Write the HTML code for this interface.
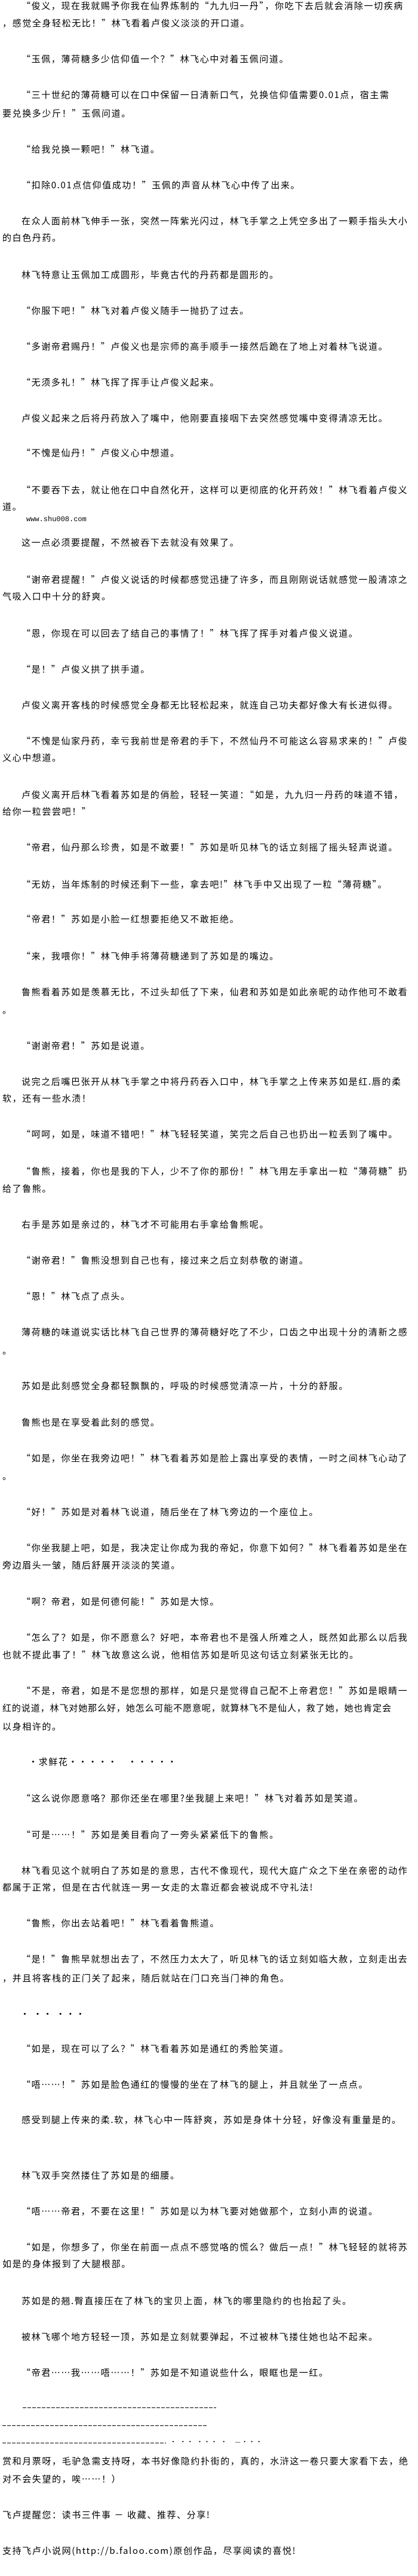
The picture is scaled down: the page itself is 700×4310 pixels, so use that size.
<!DOCTYPE html>
<html><head><meta charset="utf-8">
<style>
html,body{margin:0;padding:0;background:#fff;}
body{width:700px;height:4310px;position:relative;overflow:hidden;font-family:"Noto Sans CJK SC","WenQuanYi Zen Hei","Liberation Sans",sans-serif;font-size:15px;color:#000;}
p{position:absolute;margin:0;white-space:nowrap;line-height:20px;height:20px;letter-spacing:1.6px;}
.i{left:36px}.n{left:4px}
.d{position:absolute;height:1px;background:repeating-linear-gradient(90deg,#000 0 6px,transparent 6px 8px);}
</style></head><body>
<p class="i" style="top:0px">“俊义，现在我就赐予你我在仙界炼制的“九九归一丹”，你吃下去后就会消除一切疾病</p>
<p class="n" style="top:29px">，感觉全身轻松无比！”林飞看着卢俊义淡淡的开口道。</p>
<p class="i" style="top:89px">“玉佩，薄荷糖多少信仰值一个？”林飞心中对着玉佩问道。</p>
<p class="i" style="top:149px">“三十世纪的薄荷糖可以在口中保留一日清新口气，兑换信仰值需要0.01点，宿主需</p>
<p class="n" style="top:180px">要兑换多少斤！”玉佩问道。</p>
<p class="i" style="top:240px">“给我兑换一颗吧！”林飞道。</p>
<p class="i" style="top:300px">“扣除0.01点信仰值成功！”玉佩的声音从林飞心中传了出来。</p>
<p class="i" style="top:360px">在众人面前林飞伸手一张，突然一阵紫光闪过，林飞手掌之上凭空多出了一颗手指头大小</p>
<p class="n" style="top:388px">的白色丹药。</p>
<p class="i" style="top:450px">林飞特意让玉佩加工成圆形，毕竟古代的丹药都是圆形的。</p>
<p class="i" style="top:510px">“你服下吧！”林飞对着卢俊义随手一抛扔了过去。</p>
<p class="i" style="top:570px">“多谢帝君赐丹！”卢俊义也是宗师的高手顺手一接然后跪在了地上对着林飞说道。</p>
<p class="i" style="top:630px">“无须多礼！”林飞挥了挥手让卢俊义起来。</p>
<p class="i" style="top:690px">卢俊义起来之后将丹药放入了嘴中，他刚要直接咽下去突然感觉嘴中变得清凉无比。</p>
<p class="i" style="top:748px">“不愧是仙丹！”卢俊义心中想道。</p>
<p class="i" style="top:810px">“不要吞下去，就让他在口中自然化开，这样可以更彻底的化开药效！”林飞看着卢俊义</p>
<p class="n" style="top:838px">道。</p>
<p style="top:859px;left:44px;font-family:'Liberation Mono',monospace;font-size:12px;letter-spacing:0">www.shu008.com</p>
<p class="i" style="top:898px">这一点必须要提醒，不然被吞下去就没有效果了。</p>
<p class="i" style="top:960px">“谢帝君提醒！”卢俊义说话的时候都感觉迅捷了许多，而且刚刚说话就感觉一股清凉之</p>
<p class="n" style="top:988px">气吸入口中十分的舒爽。</p>
<p class="i" style="top:1050px">“恩，你现在可以回去了结自己的事情了！”林飞挥了挥手对着卢俊义说道。</p>
<p class="i" style="top:1110px">“是！”卢俊义拱了拱手道。</p>
<p class="i" style="top:1170px">卢俊义离开客栈的时候感觉全身都无比轻松起来，就连自己功夫都好像大有长进似得。</p>
<p class="i" style="top:1230px">“不愧是仙家丹药，幸亏我前世是帝君的手下，不然仙丹不可能这么容易求来的！”卢俊</p>
<p class="n" style="top:1258px">义心中想道。</p>
<p class="i" style="top:1320px">卢俊义离开后林飞看着苏如是的俏脸，轻轻一笑道：“如是，九九归一丹药的味道不错，</p>
<p class="n" style="top:1348px">给你一粒尝尝吧！”</p>
<p class="i" style="top:1408px">“帝君，仙丹那么珍贵，如是不敢要！”苏如是听见林飞的话立刻摇了摇头轻声说道。</p>
<p class="i" style="top:1470px">“无妨，当年炼制的时候还剩下一些，拿去吧!”林飞手中又出现了一粒“薄荷糖”。</p>
<p class="i" style="top:1528px">“帝君！”苏如是小脸一红想要拒绝又不敢拒绝。</p>
<p class="i" style="top:1590px">“来，我喂你！”林飞伸手将薄荷糖递到了苏如是的嘴边。</p>
<p class="i" style="top:1650px">鲁熊看着苏如是羡慕无比，不过头却低了下来，仙君和苏如是如此亲昵的动作他可不敢看</p>
<p class="n" style="top:1680px">。</p>
<p class="i" style="top:1740px">“谢谢帝君！”苏如是说道。</p>
<p class="i" style="top:1800px">说完之后嘴巴张开从林飞手掌之中将丹药吞入口中，林飞手掌之上传来苏如是红.唇的柔</p>
<p class="n" style="top:1828px">软，还有一些水渍！</p>
<p class="i" style="top:1888px">“呵呵，如是，味道不错吧！”林飞轻轻笑道，笑完之后自己也扔出一粒丢到了嘴中。</p>
<p class="i" style="top:1950px">“鲁熊，接着，你也是我的下人，少不了你的那份！”林飞用左手拿出一粒“薄荷糖”扔</p>
<p class="n" style="top:1979px">给了鲁熊。</p>
<p class="i" style="top:2039px">右手是苏如是亲过的，林飞才不可能用右手拿给鲁熊呢。</p>
<p class="i" style="top:2099px">“谢帝君！”鲁熊没想到自己也有，接过来之后立刻恭敬的谢道。</p>
<p class="i" style="top:2159px">“恩！”林飞点了点头。</p>
<p class="i" style="top:2219px">薄荷糖的味道说实话比林飞自己世界的薄荷糖好吃了不少，口齿之中出现十分的清新之感</p>
<p class="n" style="top:2250px">。</p>
<p class="i" style="top:2309px">苏如是此刻感觉全身都轻飘飘的，呼吸的时候感觉清凉一片，十分的舒服。</p>
<p class="i" style="top:2370px">鲁熊也是在享受着此刻的感觉。</p>
<p class="i" style="top:2430px">“如是，你坐在我旁边吧！”林飞看着苏如是脸上露出享受的表情，一时之间林飞心动了</p>
<p class="n" style="top:2460px">。</p>
<p class="i" style="top:2520px">“好！”苏如是对着林飞说道，随后坐在了林飞旁边的一个座位上。</p>
<p class="i" style="top:2580px">“你坐我腿上吧，如是，我决定让你成为我的帝妃，你意下如何？”林飞看着苏如是坐在</p>
<p class="n" style="top:2609px">旁边眉头一皱，随后舒展开淡淡的笑道。</p>
<p class="i" style="top:2670px">“啊？帝君，如是何德何能！”苏如是大惊。</p>
<p class="i" style="top:2730px">“怎么了？如是，你不愿意么？好吧，本帝君也不是强人所难之人，既然如此那么以后我</p>
<p class="n" style="top:2759px">也就不提此事了！”林飞故意这么说，他相信苏如是听见这句话立刻紧张无比的。</p>
<p class="i" style="top:2819px">“不是，帝君，如是不是您想的那样，如是只是觉得自己配不上帝君您！”苏如是眼睛一</p>
<p class="n" style="top:2848px;letter-spacing:0.9px">红的说道，林飞对她那么好，她怎么可能不愿意呢，就算林飞不是仙人，救了她，她也肯定会</p>
<p class="n" style="top:2879px">以身相许的。</p>
<p style="top:2938px;left:48px">·求鲜花·····　·····</p>
<p class="i" style="top:2999px">“这么说你愿意咯？那你还坐在哪里?坐我腿上来吧！”林飞对着苏如是笑道。</p>
<p class="i" style="top:3060px">“可是……！”苏如是美目看向了一旁头紧紧低下的鲁熊。</p>
<p class="i" style="top:3120px">林飞看见这个就明白了苏如是的意思，古代不像现代，现代大庭广众之下坐在亲密的动作</p>
<p class="n" style="top:3148px">都属于正常，但是在古代就连一男一女走的太靠近都会被说成不守礼法!</p>
<p class="i" style="top:3208px">“鲁熊，你出去站着吧！”林飞看着鲁熊道。</p>
<p class="i" style="top:3268px">“是！”鲁熊早就想出去了，不然压力太大了，听见林飞的话立刻如临大赦，立刻走出去</p>
<p class="n" style="top:3300px">，并且将客栈的正门关了起来，随后就站在门口充当门神的角色。</p>
<p style="top:3360px;left:34px">· ·· ···</p>
<p class="i" style="top:3418px">“如是，现在可以了么？”林飞看着苏如是通红的秀脸笑道。</p>
<p class="i" style="top:3478px">“唔……！”苏如是脸色通红的慢慢的坐在了林飞的腿上，并且就坐了一点点。</p>
<p class="i" style="top:3537px">感受到腿上传来的柔.软，林飞心中一阵舒爽，苏如是身体十分轻，好像没有重量是的。</p>
<p class="i" style="top:3630px">林飞双手突然搂住了苏如是的细腰。</p>
<p class="i" style="top:3690px">“唔……帝君，不要在这里！”苏如是以为林飞要对她做那个，立刻小声的说道。</p>
<p class="i" style="top:3750px">“如是，你想多了，你坐在前面一点点不感觉咯的慌么？做后一点！”林飞轻轻的就将苏</p>
<p class="n" style="top:3778px">如是的身体报到了大腿根部。</p>
<p class="i" style="top:3840px">苏如是的翘.臀直接压在了林飞的宝贝上面，林飞的哪里隐约的也抬起了头。</p>
<p class="i" style="top:3900px">被林飞哪个地方轻轻一顶，苏如是立刻就要弹起，不过被林飞搂住她也站不起来。</p>
<p class="i" style="top:3960px">“帝君……我……唔……！”苏如是不知道说些什么，眼眶也是一红。</p>
<div class="d" style="top:4028px;left:38px;width:324px"></div>
<div class="d" style="top:4058px;left:4px;width:342px"></div>
<div class="d" style="top:4087px;left:4px;width:274px"></div>
<p style="top:4075px;left:285px;font-size:10px;letter-spacing:2px">· ·· ··· ·　—···</p>
<p class="n" style="top:4108px">赏和月票呀，毛驴急需支持呀，本书好像隐约扑街的，真的，水浒这一卷只要大家看下去，绝</p>
<p class="n" style="top:4138px">对不会失望的，唉……！）</p>
<p class="n" style="top:4198px">飞卢提醒您：读书三件事 － 收藏、推荐、分享!</p>
<p class="n" style="top:4258px">支持飞卢小说网(http://b.faloo.com)原创作品，尽享阅读的喜悦!</p>
</body></html>
